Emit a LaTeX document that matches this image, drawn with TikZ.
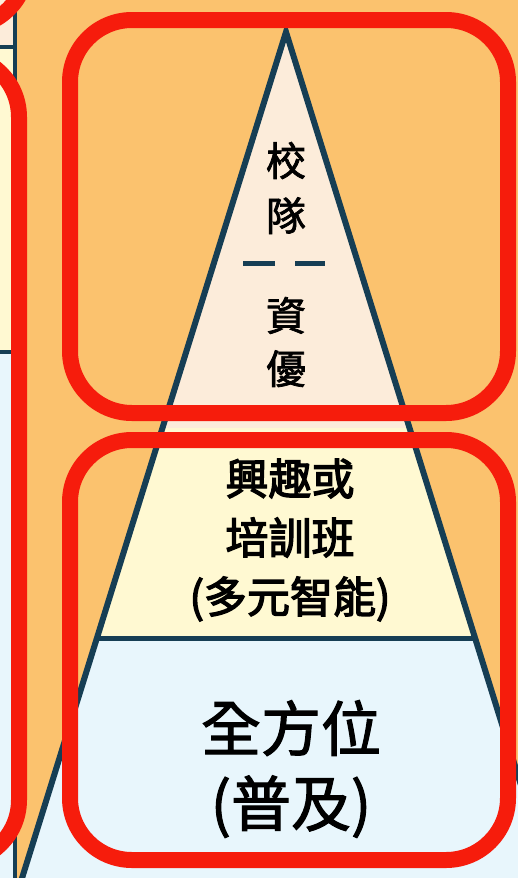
\documentclass[tikz,border=0pt]{standalone}
\usepackage{fontspec}
\newfontfamily\cjk[FakeBold=1.8]{Noto Sans CJK TC}
\newfontfamily\cjkmid[FakeBold=3]{Noto Sans CJK TC}
\definecolor{bgorange}{RGB}{251,194,110}
\definecolor{redline}{RGB}{246,28,12}
\definecolor{darkline}{RGB}{22,62,84}
\definecolor{topfill}{RGB}{252,236,218}
\definecolor{midfill}{RGB}{255,249,210}
\definecolor{botfill}{RGB}{232,246,252}
\tikzset{
  redbox/.style={draw=redline, line width=16pt, rounded corners=62pt},
  outline/.style={draw=darkline, line width=6pt},
  panelline/.style={draw=darkline, line width=3.5pt},
  label/.style={text=black, align=center, inner sep=0pt},
}
\begin{document}
\begin{tikzpicture}[x=1pt,y=-1pt]
\useasboundingbox (0,0) rectangle (518,878);
\clip (0,0) rectangle (518,878);
\fill[bgorange] (0,0) rectangle (518,878);
% left panel
\fill[topfill] (0,0) rectangle (15,47);
\fill[midfill] (0,47) rectangle (15,352);
\fill[botfill] (0,352) rectangle (15,878);
\draw[panelline] (0,47) -- (15,47);
\draw[panelline] (0,352) -- (15,352);
\draw[panelline] (15,-5) -- (15,885);
% pyramid
\coordinate (apex) at (286,32);
\coordinate (l1) at (162.4,428);
\coordinate (r1) at (409.6,428);
\coordinate (l2) at (96.9,638);
\coordinate (r2) at (475.1,638);
\coordinate (l3) at (15.2,900);
\coordinate (r3) at (556.8,900);
\fill[topfill] (apex) -- (r1) -- (l1) -- cycle;
\fill[midfill] (l1) -- (r1) -- (r2) -- (l2) -- cycle;
\fill[botfill] (l2) -- (r2) -- (r3) -- (l3) -- cycle;
\draw[outline, line width=5pt] (l2) -- (r2);
\draw[outline, line join=miter] (l3) -- (apex) -- (r3);
% dashes
\coordinate (d1a) at (243,263);
\coordinate (d1b) at (275,263);
\coordinate (d2a) at (295,263);
\coordinate (d2b) at (325,263);
\draw[outline, line width=5pt] (d1a) -- (d1b);
\draw[outline, line width=5pt] (d2a) -- (d2b);
% labels
\node[label, font=\cjk\fontsize{40}{55}\selectfont] (team) at (286,188) {校\\隊};
\node[label, font=\cjk\fontsize{40}{53}\selectfont] (gifted) at (286,342) {資\\優};
\node[label, font=\cjkmid\fontsize{43}{59}\selectfont] (interest) at (290,540) {興趣或\\培訓班\\(多元智能)};
\node[label, font=\cjk\fontsize{60}{75}\selectfont] (all) at (291,769) {全方位\\(普及)};
% red boxes
\draw[redbox] (-200,-400) rectangle (27,27);
\draw[redbox] (-200,55) rectangle (19,862);
\draw[redbox] (70,20) rectangle (508,413);
\draw[redbox] (70,440) rectangle (508,860);
\end{tikzpicture}
\end{document}
